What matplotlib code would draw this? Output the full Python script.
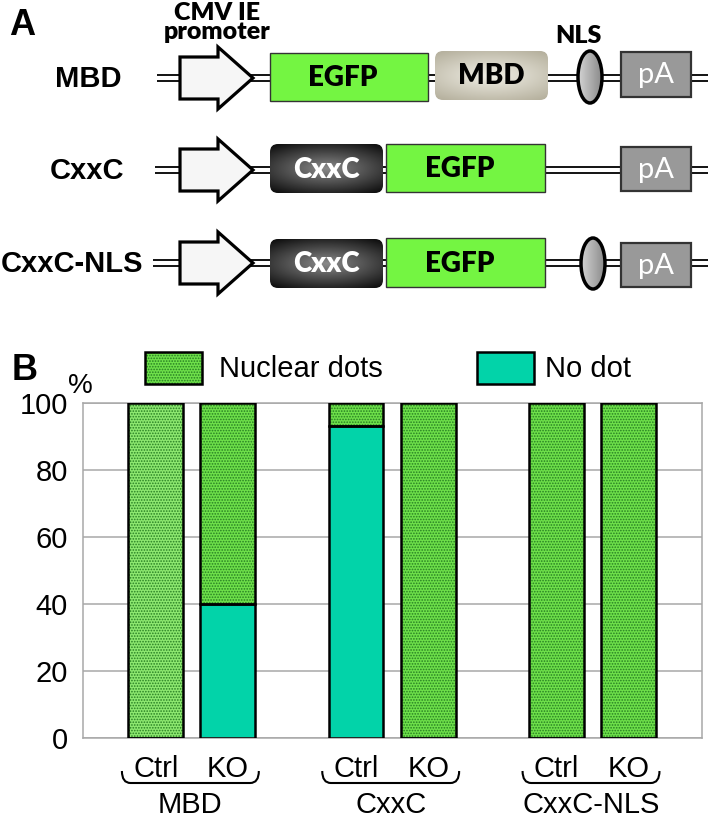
import numpy as np
import matplotlib
matplotlib.use("Agg")
import matplotlib.pyplot as plt
from matplotlib.colors import to_rgb
from matplotlib.patches import Rectangle, FancyBboxPatch, Ellipse, Polygon, PathPatch
from matplotlib.path import Path
from matplotlib.transforms import blended_transform_factory

# --- data (panel B) ---
groups = ["MBD", "CxxC", "CxxC-NLS"]
conditions = ["Ctrl", "KO"]
no_dot = [0, 40, 93, 0, 0, 0]
nuclear_dots = [100, 60, 7, 100, 100, 100]
series = ["Nuclear dots", "No dot"]

# --- panel A constructs ---
constructs = ["MBD", "CxxC", "CxxC-NLS"]

GREEN = "#6ee04a"
GREEN_LIGHT = "#8de870"
GREEN_DOTS = "#277f22"
TEAL = "#02d3a9"
EGFP_GREEN = "#74f542"
GRID = "#a8a8a8"

plt.rcParams["font.family"] = ["Liberation Sans", "DejaVu Sans"]
plt.rcParams["hatch.linewidth"] = 0.8

fig = plt.figure(figsize=(7.08, 8.19), dpi=100)

# overlay axes in pixel units for the construct diagram
ov = fig.add_axes([0, 0, 1, 1])
ov.axis("off")


def gradient(patch, extent, inner, outer, kind="radial", z=3):
    yy, xx = np.mgrid[-1:1:60j, -1:1:120j]
    if kind == "radial":
        t = np.clip(np.hypot(xx * 0.8, yy) / 1.25, 0, 1)
    else:
        t = (xx + 1) / 2
    c0, c1 = np.array(to_rgb(inner)), np.array(to_rgb(outer))
    img = c0 + (c1 - c0) * t[..., None]
    im = ov.imshow(img, extent=extent, aspect="auto", zorder=z, interpolation="bilinear")
    im.set_clip_path(patch)


def arrow(c):
    pts = [(180, c - 21), (218, c - 21), (218, c - 31), (253, c),
           (218, c + 31), (218, c + 21), (180, c + 21)]
    ov.add_patch(Polygon(pts, closed=True, fc="#f6f6f6", ec="black", lw=2.3, zorder=3, joinstyle="miter"))


def egfp(x0, x1, top, bot):
    ov.add_patch(Rectangle((x0, top), x1 - x0, bot - top, fc=EGFP_GREEN, ec="#333333", lw=1, zorder=3))
    ov.text((x0 + x1) / 2 - 6, (top + bot) / 2 + 1, "EGFP", family="Lato", weight="heavy",
            fontsize=20, ha="center", va="center", zorder=5)


def round_box(x0, x1, top, bot, inner, outer, text, tcolor):
    p = FancyBboxPatch((x0, top), x1 - x0, bot - top, boxstyle="round,pad=0,rounding_size=8",
                       fc="none", ec="none", zorder=3)
    ov.add_patch(p)
    gradient(p, (x0, x1, bot, top), inner, outer)
    ov.text((x0 + x1) / 2, (top + bot) / 2 + 1, text, family="Lato", weight="heavy",
            fontsize=20, color=tcolor, ha="center", va="center", zorder=5)


def nls(xc, top, bot):
    e = Ellipse((xc, (top + bot) / 2), 24, bot - top, fc="none", ec="none", zorder=3)
    ov.add_patch(e)
    gradient(e, (xc - 12, xc + 12, bot, top), "#d4d4d4", "#8a8a8a", kind="linear")
    ov.add_patch(Ellipse((xc, (top + bot) / 2), 24, bot - top, fc="none", ec="black", lw=2.5, zorder=4))


def polya(top, bot):
    ov.add_patch(Rectangle((621, top), 70, bot - top, fc="#999999", ec="#333333", lw=1.6, zorder=3))
    ov.text(656, (top + bot) / 2 + 1, "pA", family="Lato", fontsize=21, color="white",
            ha="center", va="center", zorder=5)


def backbone(c, x0):
    for dy in (-3, 3):
        ov.plot([x0, 708], [c + dy, c + dy], color="black", lw=1.3, zorder=2, solid_capstyle="butt")


rows = [78, 170, 263]
label_x = [88, 87, 72]
starts = [157, 155, 153]

for name, c, lx, x0 in zip(constructs, rows, label_x, starts):
    ov.text(lx, c + 1, name, weight="bold", fontsize=21, ha="center", va="center")
    backbone(c, x0)
    arrow(c)

# MBD construct
egfp(270, 428, 53, 101)
round_box(435, 548, 51, 100, "#f1efe6", "#b4af9c", "MBD", "black")
nls(590, 51, 103)
polya(52, 97)
ov.text(578, 43, "NLS", family="Lato", weight="heavy", fontsize=18, ha="center", va="baseline")
ov.text(217, 39, "CMV IE\npromoter", family="Lato", weight="heavy", fontsize=18, ha="center",
        va="baseline", linespacing=0.82)

# CxxC construct
round_box(270, 383, 144, 193, "#8a8a8a", "#0c0c0c", "CxxC", "white")
egfp(386, 545, 144, 192)
polya(147, 191)

# CxxC-NLS construct
round_box(270, 383, 239, 288, "#8a8a8a", "#0c0c0c", "CxxC", "white")
egfp(386, 545, 238, 287)
nls(593, 238, 289)
polya(243, 287)

ov.text(9, 35, "A", weight="bold", fontsize=26, va="baseline")
ov.text(12, 380, "B", weight="bold", fontsize=26, va="baseline")
ov.text(80, 386, "%", fontsize=20, ha="center", va="center")

# legend
ov.add_patch(Rectangle((145, 352), 57, 32, fc=GREEN, ec=GREEN_DOTS, lw=0, hatch="......", zorder=3))
ov.add_patch(Rectangle((145, 352), 57, 32, fill=False, ec="black", lw=1.8, zorder=4))
ov.text(219, 369, series[0], fontsize=21, va="center")
ov.add_patch(Rectangle((477, 352), 57, 32, fc=TEAL, ec="black", lw=1.8, zorder=3))
ov.text(545, 369, series[1], fontsize=21, va="center")

ov.set_xlim(0, 708)
ov.set_ylim(819, 0)

# --- panel B bar chart ---
ax = fig.add_axes([83 / 708, 1 - 738 / 819, (702 - 83) / 708, (738 - 403) / 819])
step = 2.78
width = 0.76
pos = [g * step + k - 0.5 for g in range(len(groups)) for k in range(len(conditions))]
faces = [GREEN_LIGHT] + [GREEN] * (len(pos) - 1)

ax.bar(pos, no_dot, width, color=TEAL, edgecolor="none", zorder=2)
ax.bar(pos, nuclear_dots, width, bottom=no_dot, color=faces, edgecolor=GREEN_DOTS,
       linewidth=0, hatch="......", zorder=2)
ax.bar(pos, no_dot, width, fill=False, edgecolor="black", linewidth=1.8, zorder=3)
ax.bar(pos, nuclear_dots, width, bottom=no_dot, fill=False, edgecolor="black", linewidth=1.8, zorder=3)

ax.set_xlim(-1.51, 7.08)
ax.set_ylim(0, 100)
ax.set_yticks(range(0, 101, 20))
ax.set_xticks(pos)
ax.set_xticklabels(conditions * len(groups), fontsize=21)
ax.tick_params(axis="y", length=0, labelsize=21, pad=11)
ax.tick_params(axis="x", length=0, pad=12)
ax.yaxis.grid(True, color=GRID, lw=1.1)
ax.set_axisbelow(True)
for s in ax.spines.values():
    s.set_color(GRID)
    s.set_linewidth(1.1)

# braces and group names under the x labels
trans = blended_transform_factory(ax.transData, ov.transData)
for g, name in enumerate(groups):
    x0 = pos[2 * g] - width / 2 - 0.09
    x1 = pos[2 * g + 1] + width / 2 + 0.05
    verts = [(x0, 771), (x0, 783), (x0 + 0.12, 783), (x1 - 0.12, 783), (x1, 783), (x1, 771)]
    codes = [Path.MOVETO, Path.CURVE3, Path.CURVE3, Path.LINETO, Path.CURVE3, Path.CURVE3]
    ov.add_patch(PathPatch(Path(verts, codes), fill=False, lw=1.5, ec="black", transform=trans,
                           clip_on=False))
    ov.text((x0 + x1) / 2, 813, name, fontsize=21, ha="center", va="baseline", transform=trans)

fig.savefig("out.png", dpi=100)
